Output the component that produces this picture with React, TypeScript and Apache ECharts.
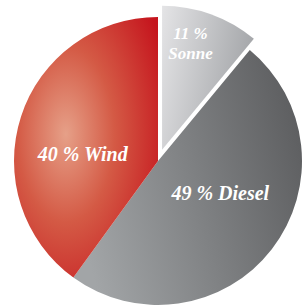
import React, { useEffect, useRef } from "react";
import * as echarts from "echarts";

const categories = ["Sonne", "Diesel", "Wind"];
const values = [11, 49, 40];
const labelTexts = ["11 %\nSonne", "49 % Diesel", "40 % Wind"];

export default function App() {
  const ref = useRef<HTMLDivElement>(null);
  useEffect(() => {
    if (!ref.current) return;
    const chart = echarts.init(ref.current, undefined, { renderer: "svg" });
    const styles = [
      {
        color: {
          type: "linear", x: 0, y: 0, x2: 1, y2: 0.3,
          colorStops: [
            { offset: 0, color: "#e4e4e6" },
            { offset: 1, color: "#a4a6a9" },
          ],
        },
      },
      {
        color: {
          type: "linear", x: 0, y: 0.6, x2: 1, y2: 0.3,
          colorStops: [
            { offset: 0, color: "#a2a5a7" },
            { offset: 1, color: "#5d5e60" },
          ],
        },
      },
      {
        color: {
          type: "radial", x: 0.36, y: 0.45, r: 0.75,
          colorStops: [
            { offset: 0, color: "#e6a088" },
            { offset: 0.45, color: "#d45a45" },
            { offset: 1, color: "#c5141d" },
          ],
        },
      },
    ];
    const shifts = [
      { dx: 3, dy: -36, align: "left" },
      { dx: 3, dy: -14, align: "center" },
      { dx: -4, dy: 16, align: "center" },
    ];
    chart.setOption({
      animation: false,
      series: [
        {
          type: "pie",
          center: [158, 161],
          radius: [0, 144],
          startAngle: 90,
          clockwise: true,
          selectedMode: "multiple",
          selectedOffset: 12,
          silent: true,
          label: {
            show: true,
            position: "inside",
            color: "#ffffff",
            fontFamily: "Liberation Serif",
            fontStyle: "italic",
            fontWeight: "bold",
            fontSize: 20,
          },
          labelLine: { show: false },
          labelLayout: (p: any) => ({ dx: shifts[p.dataIndex].dx, dy: shifts[p.dataIndex].dy }),
          itemStyle: { borderWidth: 0 },
          emphasis: { disabled: true },
          data: categories.map((c, i) => ({
            name: c,
            value: values[i],
            selected: i === 0,
            itemStyle: styles[i],
            label: {
              formatter: labelTexts[i],
              align: shifts[i].align,
              fontSize: i === 0 ? 17 : 20,
              lineHeight: i === 0 ? 20 : 22,
            },
          })),
        },
      ],
    });
    return () => chart.dispose();
  }, []);
  return (
    <div
      ref={ref}
      style={{ position: "fixed", left: 0, top: 0, width: 308, height: 306, background: "#fff" }}
    />
  );
}
